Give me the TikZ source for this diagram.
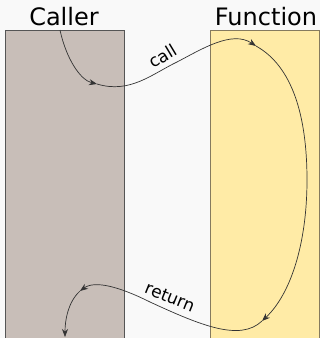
\documentclass[tikz,border=0pt]{standalone}
\usepackage{fontspec}
\setmainfont{DejaVu Sans}
\usetikzlibrary{arrows.meta}
\definecolor{bgc}{HTML}{F9F9F9}
\definecolor{callerfill}{HTML}{C8BEB8}
\definecolor{callerdraw}{HTML}{555555}
\definecolor{funcfill}{HTML}{FFEBA6}
\definecolor{funcdraw}{HTML}{857A5E}
\definecolor{flow}{HTML}{333333}
\tikzset{
  lane/.style={draw, line width=0.8pt, inner sep=0pt, anchor=north west},
  title/.style={font=\fontsize{24}{28}\selectfont, anchor=base, inner sep=0pt},
  lbl/.style={font=\fontsize{17}{20}\selectfont, inner sep=0pt},
  flowline/.style={draw=flow, line width=0.7pt, -{Stealth[length=8pt,width=6pt]}}
}
\begin{document}
\begin{tikzpicture}[x=1pt,y=-1pt]
\fill[bgc] (0,0) rectangle (320,338);
\useasboundingbox (0,0) rectangle (320,338);
\begin{scope}
\clip (0,0) rectangle (320,338);
\node[lane, fill=callerfill, draw=callerdraw, minimum width=119pt, minimum height=320pt] (caller) at (5,30) {};
\node[lane, fill=funcfill, draw=funcdraw, minimum width=109pt, minimum height=320pt] (function) at (210,30) {};
\end{scope}
\node[title] (callert) at (64,25) {Caller};
\node[title] (funct) at (266,25) {Function};
\node[lbl, rotate=31] (calll) at (163,56) {call};
\node[lbl, rotate=-22] (retl) at (170,297) {return};
\coordinate (s) at (60,30);
\coordinate (a1) at (97,84);
\coordinate (a2) at (256,46);
\coordinate (a3) at (262,321);
\coordinate (a4) at (80,291);
\coordinate (e) at (65,337);
\draw[flowline] (s) .. controls (66,58) and (80,80) .. (a1);
\draw[flowline] (a1) .. controls (130,94) and (152,74) .. (177,62) .. controls (202,49) and (232,30) .. (a2);
\draw[flowline] (a2) .. controls (292,66) and (307,115) .. (307,180) .. controls (307,245) and (290,295) .. (a3);
\draw[flowline] (a3) .. controls (240,342) and (200,325) .. (150,302) .. controls (120,287) and (95,280) .. (a4);
\draw[flowline] (a4) .. controls (68,302) and (65,320) .. (e);
\end{tikzpicture}
\end{document}
